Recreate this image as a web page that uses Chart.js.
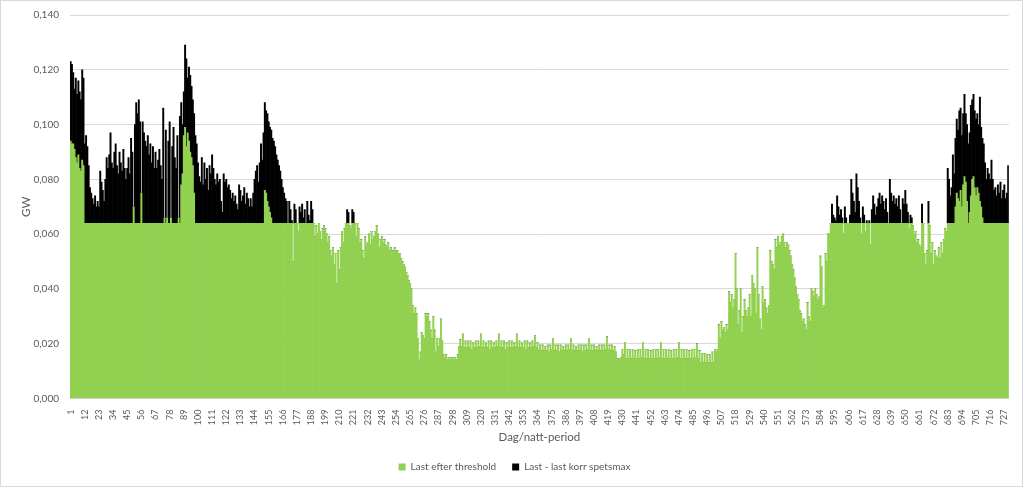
<!DOCTYPE html>
<html>
<head>
<meta charset="utf-8">
<script src="https://cdn.jsdelivr.net/npm/chart.js@4.4.1/dist/chart.umd.min.js"></script>
<style>
	body { margin: 0; background: #fff; }
	#wrap { width: 1023px; height: 487px; box-sizing: border-box; border: 1px solid #d9d9d9; }
</style>
</head>
<body>
<div id="wrap"><canvas id="myChart"></canvas></div>
<script>
// Dag/natt-perioder 1..730, last i MW (omräknas till GW nedan)
var perioder = Array.from({ length: 730 }, (_, i) => String(i + 1));

var lastEfterThreshold = [
	94,93,93,91,88,86,89,84,83,87,85,
	64,64,64,64,64,64,64,64,64,64,64,
	64,64,64,64,64,64,64,64,64,64,64,
	64,64,64,64,64,64,64,64,64,64,64,
	64,64,64,64,64,70,64,64,64,64,64,
	75,64,64,64,64,64,64,64,64,64,64,
	64,64,64,64,64,64,64,66,64,66,64,
	64,66,64,64,64,64,64,66,64,78,82,
	96,99,92,97,94,90,88,85,75,64,64,
	64,64,64,64,64,64,64,64,64,64,64,
	64,64,64,64,64,64,64,64,64,64,64,
	64,64,64,64,64,64,64,64,64,64,64,
	64,64,64,64,64,64,64,64,64,64,64,
	64,64,64,64,64,64,64,64,76,75,72,
	70,68,66,64,64,64,64,64,64,64,64,
	64,64,64,64,64,64,64,64,50,64,64,
	64,61,64,64,64,64,64,64,64,64,64,
	64,64,64,59,63,60,64,61,58,62,63,
	62,60,57,59,54,52,55,49,53,42,54,
	47,55,61,57,62,64,64,64,63,62,64,
	64,64,59,64,62,57,58,54,51,59,56,
	57,60,56,61,58,59,61,63,60,55,58,
	59,57,58,56,55,57,54,55,54,54,55,
	54,54,53,53,51,50,49,48,46,45,43,
	42,40,34,31,33,31,22,14,17,24,23,
	22,31,30,31,28,25,22,30,25,17,22,
	19,22,29,21,16,15,16,14,15,14,15,
	15,14,15,14,16,19,21.5,19,23.5,18.5,21,
	18.5,21,18.5,21,18,20.5,18.5,21,18.5,21,19,
	23.5,18.5,21,18.5,20.5,18.5,21,18,21,18.5,20.5,
	18.5,21,19,23.5,18.5,21,18.5,21,18,20.5,18.5,
	21,18.5,21,18.5,20.5,19,23.5,18.5,21,18.5,20.5,
	18.5,21,18,21,18.5,20.5,18.5,21,19,23,18.5,
	20.5,18,19.5,17.5,19.5,17.5,19,17.5,19.5,17,19.5,
	18,22,17.5,19.5,17.5,19.5,17,19.5,17.5,19,17.5,
	19.5,17.5,19.5,18,22,17.5,19.5,17.5,19,17.5,19.5,
	17.5,19.5,17,19.5,17.5,19.5,18,22,17.5,19.5,17.5,
	19.5,17.5,19,17.5,19.5,17.5,19.5,17.5,19.5,18,22.5,
	18,19.5,17.5,19.5,17.5,19,17,14.5,14.5,14,15,
	18,16,20.5,14.5,18,14.5,18,14.5,18,14.5,17.5,
	14.5,18,14.5,18,15,20.5,14.5,18,14.5,18,14.5,
	17.5,14.5,18,14.5,18,14.5,18,15,20.5,14.5,18,
	14.5,18,14.5,18,14.5,17.5,14.5,18,14.5,18,15,
	20.5,14.5,18,14.5,18,14.5,18,14.5,17.5,14.5,18,
	14.5,18,15,20,14.5,17.5,13,16.5,13,16.5,13,
	16,13,16,13,17,13,18,17,18,27,22,
	28,25,26,24,27,25,39,35,38,33,36,
	53,40,27,32,40,24,30,36,32,30,33,
	38,30,45,42,40,31,55,38,29,25,41,
	35,36,33,31,34,54,50,49,47,58,55,
	59,56,57,59,60,57,55,57,56,54,52,
	49,47,44,41,38,36,32,31,28,29,27,
	25,35,30,28,40,39,37,40,38,36,37,
	52,48,33,34,53,50,60,60,64,64,64,
	64,64,64,64,64,64,64,60,64,64,64,
	64,64,64,64,64,64,64,64,64,64,60,
	64,64,61,64,64,64,56,64,64,64,64,
	64,64,64,64,64,64,64,64,64,64,64,
	64,64,64,64,64,64,64,64,64,64,64,
	64,64,64,62,64,64,63,60,61,57,58,
	56,55,64,64,53,49,54,64,63,53,57,
	49,54,52,51,55,51,57,53,58,62,61,
	64,64,64,64,64,64,70,75,73,72,76,
	70,78,81,79,72,64,68,74,80,81,77,
	74,77,75,72,70,66,64,64,64,64,64,
	64,64,64,64,64,64,64,64,64,64,64,
	64,64,64,64
];

var lastKorrSpetsmax = [
	29,29,26,22,29,25,27,28,26,33,32,
	29,32,28,21,13,11,9,7,10,6,8,
	6,19,15,12,8,16,24,20,25,33,22,
	20,26,29,21,18,26,22,19,27,20,16,
	20,24,18,31,26,0,36,44,40,45,37,
	0,37,33,30,28,32,25,29,22,28,20,
	26,20,23,27,21,16,42,0,34,0,30,
	37,0,28,35,24,20,32,0,39,30,18,
	16,30,32,20,27,28,26,24,29,32,29,
	22,17,15,24,14,22,16,20,12,21,18,
	25,20,16,14,18,15,16,8,4,18,15,
	16,13,14,12,9,11,8,10,7,5,14,
	12,8,10,13,7,11,9,6,9,6,11,
	16,19,21,15,22,29,23,33,32,30,32,
	31,31,32,31,30,28,25,23,21,19,16,
	13,11,9,8,0,8,5,1,0,7,5,
	0,0,6,4,7,2,5,0,8,3,1,
	8,5,0,0,0,0,0,0,0,0,0,
	0,0,0,0,0,0,0,0,0,0,0,
	0,0,0,0,0,0,5,4,0,0,5,
	4,0,0,0,0,0,0,0,0,0,0,
	0,0,0,0,0,0,0,0,0,0,0,0,0,0,0,0,0,0,0,0,0,0,
	0,0,0,0,0,0,0,0,0,0,0,0,0,0,0,0,0,0,0,0,0,0,
	0,0,0,0,0,0,0,0,0,0,0,0,0,0,0,0,0,0,0,0,0,0,
	0,0,0,0,0,0,0,0,0,0,0,0,0,0,0,0,0,0,0,0,0,0,
	0,0,0,0,0,0,0,0,0,0,0,0,0,0,0,0,0,0,0,0,0,0,
	0,0,0,0,0,0,0,0,0,0,0,0,0,0,0,0,0,0,0,0,0,0,
	0,0,0,0,0,0,0,0,0,0,0,0,0,0,0,0,0,0,0,0,0,0,
	0,0,0,0,0,0,0,0,0,0,0,0,0,0,0,0,0,0,0,0,0,0,
	0,0,0,0,0,0,0,0,0,0,0,0,0,0,0,0,0,0,0,0,0,0,
	0,0,0,0,0,0,0,0,0,0,0,0,0,0,0,0,0,0,0,0,0,0,
	0,0,0,0,0,0,0,0,0,0,0,0,0,0,0,0,0,0,0,0,0,0,
	0,0,0,0,0,0,0,0,0,0,0,0,0,0,0,0,0,0,0,0,0,0,
	0,0,0,0,0,0,0,0,0,0,0,0,0,0,0,0,0,0,0,0,0,0,
	0,0,0,0,0,0,0,0,0,0,0,0,0,0,0,0,0,0,0,0,0,0,
	0,0,0,0,0,0,0,0,0,0,0,0,0,0,0,0,0,0,0,0,0,0,
	0,0,0,0,0,0,0,0,0,0,0,0,0,0,0,0,0,0,0,0,0,0,
	0,0,0,0,0,0,0,0,0,7,3,
	2,1,10,6,3,5,2,0,6,2,0,
	0,3,16,11,8,4,18,13,8,2,0,
	6,3,0,1,0,1,0,5,10,7,3,
	6,9,11,7,10,8,5,9,4,0,16,
	11,8,10,7,9,6,10,5,0,9,7,
	12,7,4,0,3,2,0,0,0,0,0,
	0,0,7,0,0,0,0,8,0,0,0,
	0,0,0,0,0,0,0,0,0,0,0,
	20,16,10,13,25,18,25,27,25,33,30,
	26,26,30,25,28,29,29,33,29,30,28,
	28,27,25,38,29,29,29,22,16,20,18,
	16,23,16,12,13,10,14,11,15,9,12,
	14,9,11,21
];

var yTicks = [0, 0.02, 0.04, 0.06, 0.08, 0.1, 0.12, 0.14];

var grey = "#595959";
var font = "Lato, 'Open Sans', sans-serif";

var ctx = document.querySelector("#myChart").getContext("2d");
var myChart = new Chart(ctx, {
	type: "bar",
	data: {
		labels: perioder,
		datasets: [
			{
				label: "Last efter threshold",
				data: lastEfterThreshold.map((v) => v / 1000),
				backgroundColor: "#92d050",
				barPercentage: 1,
				categoryPercentage: 1,
			},
			{
				label: "Last - last korr spetsmax",
				data: lastKorrSpetsmax.map((v) => v / 1000),
				backgroundColor: "#000000",
				barPercentage: 1,
				categoryPercentage: 1,
			},
		],
	},
	options: {
		responsive: true,
		maintainAspectRatio: false,
		animation: false,
		layout: { padding: { left: 18, right: 12, top: 14, bottom: 4 } },
		plugins: {
			tooltip: { enabled: false },
			legend: {
				position: "bottom",
				labels: {
					color: grey,
					font: { family: font, size: 10 },
					boxWidth: 7,
					boxHeight: 7,
					padding: 16,
				},
			},
		},
		scales: {
			x: {
				stacked: true,
				grid: { display: false },
				border: { color: "#d9d9d9" },
				ticks: {
					autoSkip: false,
					minRotation: 90,
					maxRotation: 90,
					padding: 3,
					color: grey,
					font: { family: font, size: 9 },
					callback: function (value, index) {
						return index % 11 === 0 ? perioder[index] : "";
					},
				},
				title: {
					display: true,
					text: "Dag/natt-period",
					color: grey,
					font: { family: font, size: 11.5 },
					padding: { top: 2, bottom: 2 },
				},
			},
			y: {
				stacked: true,
				min: 0,
				max: 0.14,
				afterBuildTicks: function (axis) {
					axis.ticks = yTicks.map((v) => ({ value: v }));
				},
				afterFit: function (axis) {
					axis.width = 51;
					axis.paddingTop = 0;
				},
				grid: { color: "#d9d9d9", drawTicks: false },
				border: { display: false },
				ticks: {
					padding: 11,
					color: grey,
					font: { family: font, size: 10 },
					callback: function (value) {
						return value.toFixed(3).replace(".", ",");
					},
				},
				title: {
					display: true,
					text: "GW",
					color: grey,
					font: { family: font, size: 11.5 },
					padding: 0,
				},
			},
		},
	},
});
</script>
</body>
</html>
